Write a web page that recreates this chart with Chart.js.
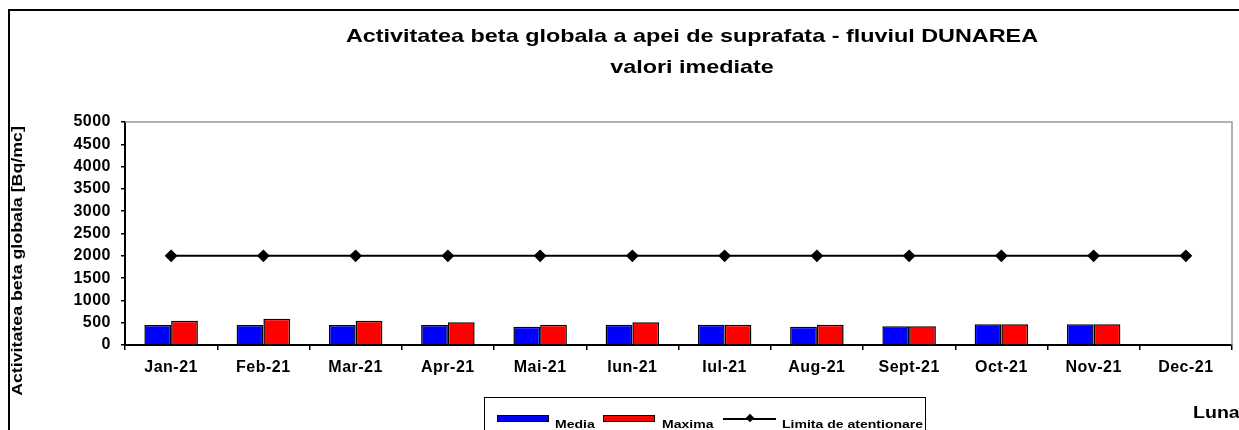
<!DOCTYPE html>
<html>
<head>
<meta charset="utf-8">
<script src="https://cdn.jsdelivr.net/npm/chart.js@4/dist/chart.umd.min.js"></script>
<style>
  body { margin: 0; background: #fff; }
  #wrap { position: relative; width: 1239px; height: 430px; overflow: hidden; font-family: "Liberation Sans", Arial, sans-serif; font-weight: bold; color: #000; }
  #frame { position: absolute; left: 8px; top: 9px; width: 1300px; height: 500px; border-left: 2px solid #000; border-top: 2px solid #000; }
  .t { position: absolute; white-space: nowrap; }
  #title1, #title2 { font-size: 19px; left: 692px; transform: translateX(-50%) scaleX(1.23); }
  #title1 { top: 25px; }
  #title2 { top: 56px; }
  #ytitle { font-size: 14px; left: 17px; top: 261px; transform: translate(-50%, -50%) rotate(-90deg) scaleX(1.27); }
  #luna { font-size: 17px; left: 1193px; top: 403px; transform-origin: left center; transform: scaleX(1.15); }
  #legend { position: absolute; left: 484px; top: 397px; width: 440px; height: 60px; border: 1.5px solid #000; overflow: hidden; }
  .sw { position: absolute; top: 17px; width: 50px; height: 5px; border: 1.5px solid #000; }
  .lt { position: absolute; top: 20px; font-size: 11.5px; white-space: nowrap; transform-origin: left center; transform: scaleX(1.22); }
  #ln { position: absolute; left: 238px; top: 20px; width: 53px; height: 2px; background: #000; }
  #dm { position: absolute; left: 262px; top: 17px; width: 6px; height: 6px; background: #000; transform: rotate(45deg); }
</style>
</head>
<body>
<div id="wrap">
  <canvas id="c" width="1239" height="430"></canvas>
  <div id="frame"></div>
  <div class="t" id="title1">Activitatea beta globala a apei de suprafata - fluviul DUNAREA</div>
  <div class="t" id="title2">valori imediate</div>
  <div class="t" id="ytitle">Activitatea beta globala [Bq/mc]</div>
  <div class="t" id="luna">Luna</div>
  <div id="legend">
    <div class="sw" style="left:12px;background:#0000ff"></div>
    <div class="lt" style="left:70px">Media</div>
    <div class="sw" style="left:118px;background:#ff0000"></div>
    <div class="lt" style="left:177px">Maxima</div>
    <div id="ln"></div><div id="dm"></div>
    <div class="lt" style="left:297px">Limita de atentionare</div>
  </div>
</div>
<script>
const luni = ['Jan-21', 'Feb-21', 'Mar-21', 'Apr-21', 'Mai-21', 'Iun-21', 'Iul-21', 'Aug-21', 'Sept-21', 'Oct-21', 'Nov-21', 'Dec-21'];
const media = [450, 450, 450, 450, 410, 455, 455, 410, 420, 465, 465, null];
const maxima = [545, 590, 545, 510, 455, 510, 455, 455, 420, 465, 465, null];
const limita = [2000, 2000, 2000, 2000, 2000, 2000, 2000, 2000, 2000, 2000, 2000, 2000];
const yTicks = [0, 500, 1000, 1500, 2000, 2500, 3000, 3500, 4000, 4500, 5000];

// gray border on top and right of the plot area + a bit of letter spacing like the excel original
const plotBorder = {
    id: 'plotBorder',
    beforeDraw(chart) {
        chart.ctx.letterSpacing = '0.5px';
    },
    beforeDatasetsDraw(chart) {
        const a = chart.chartArea, ctx = chart.ctx;
        ctx.save();
        ctx.strokeStyle = '#999';
        ctx.lineWidth = 1.5;
        ctx.beginPath();
        ctx.moveTo(a.left, a.top);
        ctx.lineTo(a.right, a.top);
        ctx.lineTo(a.right, a.bottom);
        ctx.stroke();
        ctx.restore();
    },
    afterDraw(chart) {
        chart.ctx.letterSpacing = '0px';
    }
};

const font = { family: '"Liberation Sans", Arial, sans-serif', weight: 'bold' };

new Chart(document.getElementById('c'), {
    type: 'bar',
    data: {
        labels: luni,
        datasets: [
            { type: 'line', label: 'Limita de atentionare', data: limita, borderColor: '#000', backgroundColor: '#000',
              borderWidth: 2, pointStyle: 'rectRot', pointRadius: 5, order: 0 },
            { label: 'Media', data: media, backgroundColor: '#0000ff', borderColor: '#000', borderWidth: 1.5, order: 1 },
            { label: 'Maxima', data: maxima, backgroundColor: '#ff0000', borderColor: '#000', borderWidth: 1.5, order: 1 }
        ]
    },
    options: {
        responsive: false,
        animation: false,
        categoryPercentage: 0.58,
        barPercentage: 1,
        layout: { padding: { top: 122, right: 2, left: 0, bottom: 0 } },
        plugins: { legend: { display: false }, tooltip: { enabled: false }, title: { display: false } },
        scales: {
            x: {
                offset: true,
                grid: { offset: true, drawOnChartArea: false, tickLength: 5, color: '#000', lineWidth: 1.5 },
                border: { color: '#000', width: 2 },
                ticks: { color: '#000', font: { ...font, size: 16 }, padding: 8, maxRotation: 0 },
                afterFit(s) { s.height = 85; }
            },
            y: {
                min: 0, max: 5000,
                afterBuildTicks(s) { s.ticks = yTicks.map(v => ({ value: v })); },
                grid: { drawOnChartArea: false, tickLength: 4, color: '#000', lineWidth: 1.5 },
                border: { color: '#000', width: 2 },
                ticks: { color: '#000', font: { ...font, size: 16 }, padding: 10, callback: v => String(v) },
                afterFit(s) { s.width = 125; }
            }
        }
    },
    plugins: [plotBorder]
});
</script>
</body>
</html>
